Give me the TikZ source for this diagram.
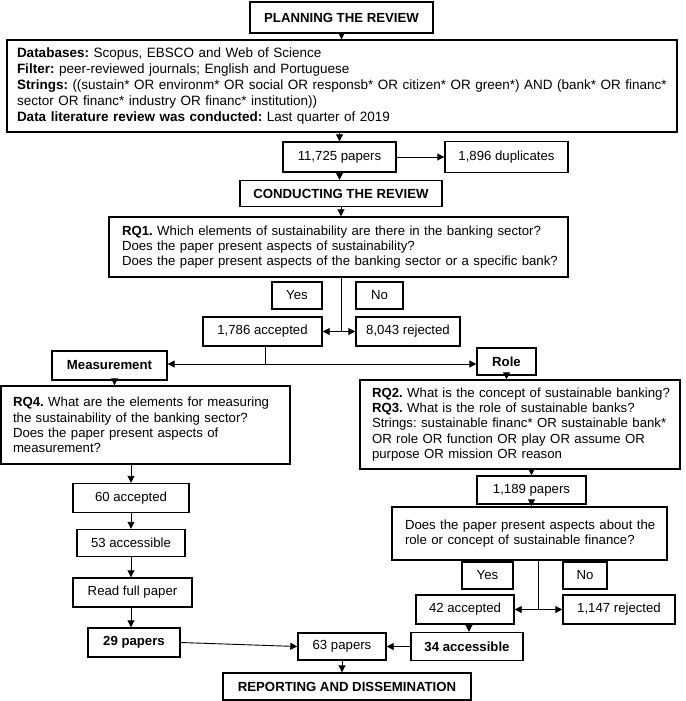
\documentclass[tikz,border=0pt]{standalone}
\usepackage{fontspec}
\setmainfont{Liberation Sans}
\usetikzlibrary{arrows.meta}
\newcommand\fsz{\fontsize{13.2}{15.3}\selectfont\frenchspacing}
\newcommand\fszb{\fontsize{13.5}{16.2}\selectfont\frenchspacing}
\begin{document}
\begin{tikzpicture}[x=1pt,y=-1pt,
  bx/.style={draw, line width=1.4pt, inner sep=0pt, align=center, font=\fsz},
  tbx/.style={draw, line width=1.4pt, inner ysep=0pt, align=left, font=\fsz},
  arr/.style={-{Triangle[length=7pt,width=7pt]}, line width=0.9pt},
  ln/.style={line width=0.9pt}]
\useasboundingbox (0,0) rectangle (685,701);
\fill[white] (0,0) rectangle (685,701);
% nodes
\node[bx, minimum width=183pt, minimum height=31pt] (plan) at (341.5,17.5) {\textbf{PLANNING THE REVIEW}};
\node[tbx, font=\fszb, inner xsep=10pt, text width=650pt, minimum height=92pt] (db) at (342,86)
  {\mbox{\textbf{Databases:} Scopus, EBSCO and Web of Science}\\
   \mbox{\textbf{Filter:} peer-reviewed journals; English and Portuguese}\\
   \mbox{\textbf{Strings:} ((sustain* OR environm* OR social OR responsb* OR citizen* OR green*) AND (bank* OR financ*}\\
   \mbox{sector OR financ* industry OR financ* institution))}\\
   \mbox{\textbf{Data literature review was conducted:} Last quarter of 2019}};
\node[bx, minimum width=113pt, minimum height=30pt] (p11725) at (339.5,157) {11,725 papers};
\node[bx, minimum width=123pt, minimum height=31pt] (dup) at (506.5,157) {1,896 duplicates};
\node[bx, minimum width=202pt, minimum height=26pt] (conduct) at (341,193.5) {\textbf{CONDUCTING THE REVIEW}};
\node[tbx, inner xsep=13pt, text width=433pt, minimum height=60pt] (rq1) at (338.5,247)
  {\mbox{\textbf{RQ1.} Which elements of sustainability are there in the banking sector?}\\
   \mbox{Does the paper present aspects of sustainability?}\\
   \mbox{Does the paper present aspects of the banking sector or a specific bank?}};
\node[bx, minimum width=50pt, minimum height=27pt] (yes1) at (297,295.5) {Yes};
\node[bx, minimum width=47pt, minimum height=27pt] (no1) at (379.5,295.5) {No};
\node[bx, minimum width=119pt, minimum height=29pt] (acc1) at (262.5,331.5) {1,786 accepted};
\node[bx, minimum width=104pt, minimum height=29pt] (rej1) at (408,331.5) {8,043 rejected};
\node[bx, minimum width=115pt, minimum height=29pt] (meas) at (109.5,365.5) {\textbf{Measurement}};
\node[bx, minimum width=59pt, minimum height=27pt] (role) at (506.5,361.5) {\textbf{Role}};
\node[tbx, inner xsep=12pt, text width=265pt, minimum height=78pt] (rq4) at (145.5,425)
  {\mbox{\textbf{RQ4.} What are the elements for measuring}\\
   \mbox{the sustainability of the banking sector?}\\
   \mbox{Does the paper present aspects of}\\
   \mbox{measurement?}};
\node[tbx, inner xsep=12pt, text width=296pt, minimum height=89pt] (rq2) at (520,424.5)
  {\mbox{\textbf{RQ2.} What is the concept of sustainable banking?}\\
   \mbox{\textbf{RQ3.} What is the role of sustainable banks?}\\
   \mbox{Strings: sustainable financ* OR sustainable bank*}\\
   \mbox{OR role OR function OR play OR assume OR}\\
   \mbox{purpose OR mission OR reason}};
\node[bx, minimum width=116pt, minimum height=29pt] (acc60) at (131,498) {60 accepted};
\node[bx, minimum width=108pt, minimum height=27pt] (acc53) at (131,543) {53 accessible};
\node[bx, minimum width=119pt, minimum height=29pt] (read) at (132.5,592.5) {Read full paper};
\node[bx, minimum width=92pt, minimum height=29pt] (p29) at (134,642.5) {\textbf{29 papers}};
\node[bx, minimum width=109pt, minimum height=28pt] (p1189) at (531.5,490) {1,189 papers};
\node[tbx, inner xsep=13pt, text width=249pt, minimum height=53pt] (does) at (529.5,533.5)
  {\mbox{Does the paper present aspects about the}\\
   \mbox{role or concept of sustainable finance?}};
\node[bx, minimum width=51pt, minimum height=27pt] (yes2) at (487.5,575.5) {Yes};
\node[bx, minimum width=44pt, minimum height=27pt] (no2) at (585,575.5) {No};
\node[bx, minimum width=98pt, minimum height=29pt] (acc42) at (465,609.5) {42 accepted};
\node[bx, minimum width=112pt, minimum height=29pt] (rej2) at (619,609.5) {1,147 rejected};
\node[bx, minimum width=112pt, minimum height=28pt] (acc34) at (467,646.5) {\textbf{34 accessible}};
\node[bx, minimum width=88pt, minimum height=27pt] (p63) at (342,646.5) {63 papers};
\node[bx, minimum width=248pt, minimum height=27pt] (report) at (347,686.5) {\textbf{REPORTING AND DISSEMINATION}};
% junctions
\coordinate (j1) at (341,331.5);
\coordinate (j2) at (265,364);
\coordinate (j3) at (538,609.5);
% connectors
\draw[arr] (plan.south) -- (plan.south |- db.north);
\draw[arr] (p11725.north |- db.south) -- (p11725.north);
\draw[arr] (p11725.east) -- (dup.west);
\draw[arr] (p11725.south) -- (p11725.south |- conduct.north);
\draw[arr] (conduct.south) -- (conduct.south |- rq1.north);
\draw[ln] (rq1.south -| j1) -- (j1);
\draw[arr] (j1) -- (acc1.east |- j1);
\draw[arr] (j1) -- (rej1.west |- j1);
\draw[ln] (acc1.south -| j2) -- (j2);
\draw[arr] (j2) -- (meas.east |- j2);
\draw[arr] (j2) -- (role.west |- j2);
\draw[arr] ([xshift=5pt]meas.south) -- ([xshift=5pt]meas.south |- rq4.north);
\draw[arr] (role.south) -- (role.south |- rq2.north);
\draw[arr] (acc60.north |- rq4.south) -- (acc60.north);
\draw[arr] (acc60.south) -- (acc53.north);
\draw[arr] (acc53.south) -- (acc53.south |- read.north);
\draw[arr] (acc53.south |- read.south) -- (acc53.south |- p29.north);
\draw[arr] (p1189.north |- rq2.south) -- (p1189.north);
\draw[arr] (p1189.south) -- (p1189.south |- does.north);
\draw[ln] (does.south -| j3) -- (j3);
\draw[arr] (j3) -- (acc42.east);
\draw[arr] (j3) -- (rej2.west);
\draw[arr] ([xshift=4pt]acc42.south) -- ([xshift=4pt]acc42.south |- acc34.north);
\draw[arr] (acc34.west) -- (p63.east);
\draw[arr] (p29.east) -- (p63.west);
\draw[arr] (p63.south) -- (p63.south |- report.north);
\end{tikzpicture}
\end{document}
